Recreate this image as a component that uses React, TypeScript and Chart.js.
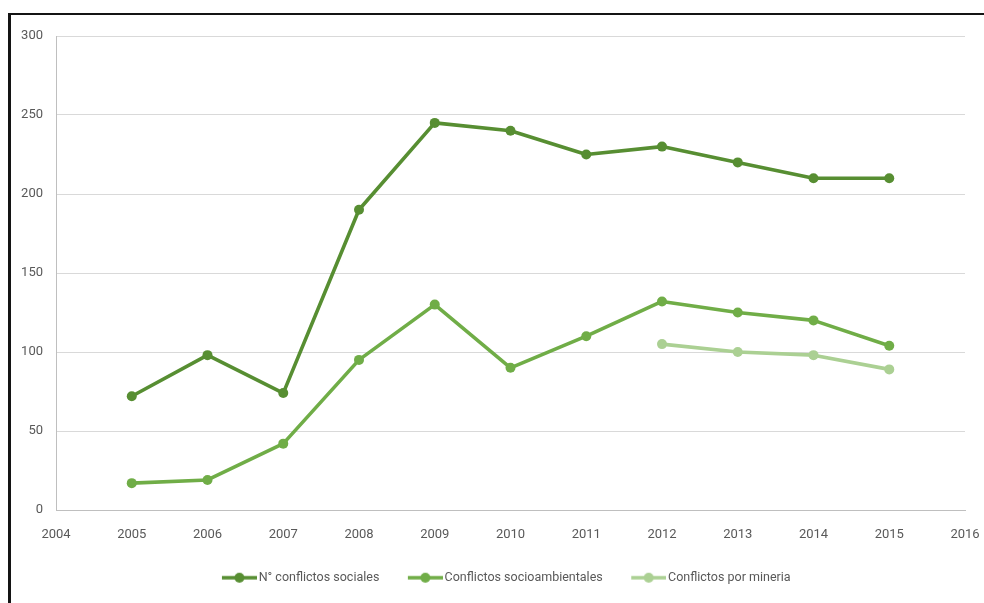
import { useEffect, useRef } from 'react';
import { Chart, registerables } from 'chart.js';

Chart.register(...registerables);

// Years along the x axis (the first and last carry no data)
const years = ['2004', '2005', '2006', '2007', '2008', '2009', '2010', '2011', '2012', '2013', '2014', '2015', '2016'];

// Series values per year
const socialConflicts = [null, 72, 98, 74, 190, 245, 240, 225, 230, 220, 210, 210, null];
const socioEnvironmentalConflicts = [null, 17, 19, 42, 95, 130, 90, 110, 132, 125, 120, 104, null];
const miningConflicts = [null, null, null, null, null, null, null, null, 105, 100, 98, 89, null];

const seriesNames = ['N° conflictos sociales', 'Conflictos socioambientales', 'Conflictos por mineria'];
const seriesColors = ['#578e32', '#70ad47', '#abd093'];

// Value axis range
const yMin = 0;
const yMax = 300;
const yStep = 50;

const FONT = 'Roboto, "Liberation Sans", sans-serif';
const TEXT_COLOR = '#595959';
const LEGEND_CENTER_X = 503.5;

// Legend swatch: a short line with a dot in the middle, sitting against the label
function makeLegendIcon(color: string): HTMLCanvasElement {
  const c = document.createElement('canvas');
  c.width = 45;
  c.height = 14;
  const ctx = c.getContext('2d')!;
  ctx.strokeStyle = color;
  ctx.lineWidth = 3.5;
  ctx.beginPath();
  ctx.moveTo(10, 7);
  ctx.lineTo(45, 7);
  ctx.stroke();
  ctx.fillStyle = color;
  ctx.beginPath();
  ctx.arc(27.5, 7, 5, 0, Math.PI * 2);
  ctx.fill();
  return c;
}

// Moves the legend row so it is centred under the plot like the original layout
const legendPlacement = {
  id: 'legendPlacement',
  afterLayout(chart: any) {
    const lg = chart.legend;
    if (!lg) return;
    const shift = LEGEND_CENTER_X - (lg.left + lg.right) / 2;
    lg.left += shift;
    lg.right += shift;
  },
};

export default function App() {
  const canvasRef = useRef<HTMLCanvasElement | null>(null);

  useEffect(() => {
    if (!canvasRef.current) return;
    const seriesData = [socialConflicts, socioEnvironmentalConflicts, miningConflicts];
    const icons = seriesColors.map(makeLegendIcon);

    const chart = new Chart(canvasRef.current, {
      type: 'line',
      data: {
        labels: years,
        datasets: seriesData.map((values, i) => ({
          label: seriesNames[i],
          data: values,
          borderColor: seriesColors[i],
          backgroundColor: seriesColors[i],
          borderWidth: 3.6,
          pointRadius: 5,
          pointHoverRadius: 5,
          pointBorderWidth: 0,
          pointBackgroundColor: seriesColors[i],
          borderJoinStyle: 'round' as const,
          borderCapStyle: 'round' as const,
          tension: 0,
          fill: false,
        })),
      },
      options: {
        responsive: false,
        animation: false,
        layout: { padding: { left: 0, right: 19, top: 36, bottom: 9 } },
        scales: {
          x: {
            type: 'category',
            offset: false,
            grid: { display: false, drawTicks: false },
            border: { display: true, color: '#bfbfbf', width: 1 },
            ticks: {
              color: TEXT_COLOR,
              font: { family: FONT, size: 13 },
              padding: 16.5,
              maxRotation: 0,
              autoSkip: false,
            },
            afterFit: (scale: any) => {
              scale.height = 38.5;
              scale.paddingLeft = 0;
              scale.paddingRight = 0;
            },
          },
          y: {
            min: yMin,
            max: yMax,
            grid: { color: '#d9d9d9', lineWidth: 1, drawTicks: false },
            border: { display: true, color: '#bfbfbf', width: 1 },
            ticks: {
              stepSize: yStep,
              color: TEXT_COLOR,
              font: { family: FONT, size: 13 },
              padding: 13,
            },
            afterFit: (scale: any) => {
              scale.width = 56;
              scale.paddingTop = 0;
              scale.paddingBottom = 0;
            },
          },
        },
        plugins: {
          tooltip: { enabled: false },
          legend: {
            position: 'bottom',
            align: 'center',
            labels: {
              usePointStyle: true,
              pointStyleWidth: 36,
              padding: 23,
              color: TEXT_COLOR,
              font: { family: FONT, size: 12.5 },
              generateLabels: (c: any) =>
                c.data.datasets.map((ds: any, i: number) => ({
                  text: ds.label,
                  datasetIndex: i,
                  pointStyle: icons[i],
                  fillStyle: seriesColors[i],
                  strokeStyle: seriesColors[i],
                  lineWidth: 0,
                  hidden: false,
                  fontColor: TEXT_COLOR,
                })),
            },
          },
        },
      },
      plugins: [legendPlacement],
    });
    return () => chart.destroy();
  }, []);

  return (
    <div
      style={{
        position: 'fixed',
        left: 0,
        top: 0,
        width: 984,
        height: 603,
        overflow: 'hidden',
        background: '#ffffff',
      }}
    >
      <div
        style={{
          position: 'absolute',
          left: 8,
          top: 13,
          width: 1200,
          height: 900,
          borderLeft: '3px solid #141414',
          borderTop: '2px solid #141414',
        }}
      />
      <canvas
        ref={canvasRef}
        width={984}
        height={603}
        style={{ position: 'absolute', left: 0, top: 0, width: 984, height: 603 }}
      />
    </div>
  );
}
